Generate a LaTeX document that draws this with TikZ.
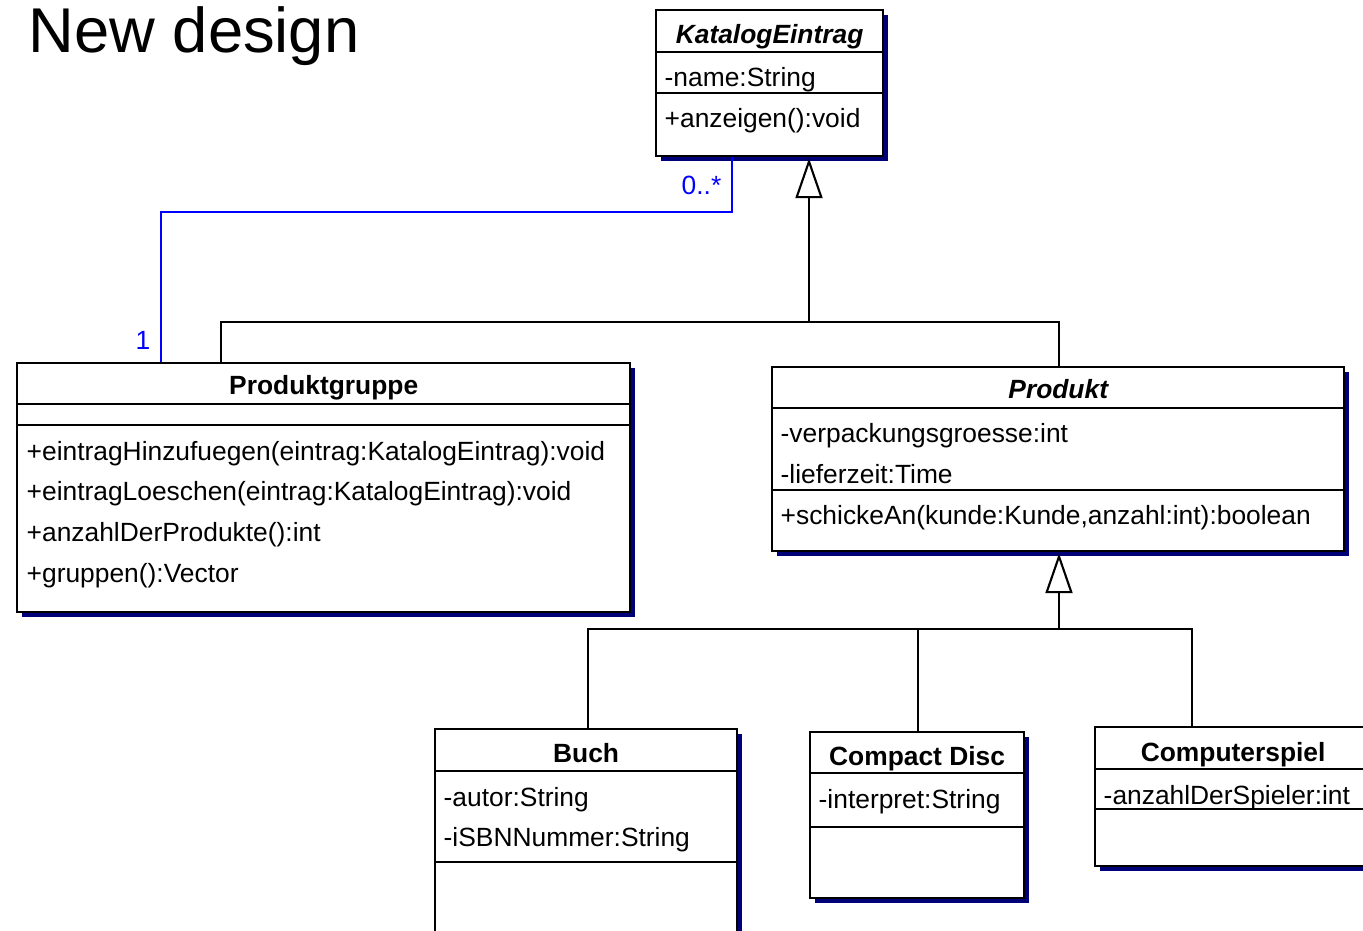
\documentclass[tikz,border=0pt]{standalone}
\usepackage{fontspec}
\setmainfont{Liberation Sans}
\usetikzlibrary{arrows.meta,positioning,shadows}
\definecolor{umlshade}{RGB}{0,0,120}
\definecolor{assocblue}{RGB}{0,0,255}

\begin{document}
\begin{tikzpicture}[x=0.01cm, y=-0.01cm,
    cls/.style={draw, line width=0.6pt, fill=white, inner sep=0pt, anchor=north west,
        drop shadow={shadow xshift=0.05cm, shadow yshift=-0.05cm, fill=umlshade, opacity=1}},
    ctitle/.style={font=\fontsize{7.5}{9}\selectfont\bfseries, anchor=base, inner sep=0pt},
    member/.style={font=\fontsize{7.5}{9}\selectfont, anchor=base west, inner sep=0pt},
    sep/.style={line width=0.6pt},
    tree/.style={line width=0.6pt},
    gen/.style={-{Triangle[open, length=0.4cm, width=0.27cm]}, line width=0.6pt, shorten >=0.01cm},
    assoc/.style={draw=assocblue, line width=0.6pt},
    mult/.style={font=\fontsize{7.5}{9}\selectfont, text=assocblue, inner sep=0pt}
]
\useasboundingbox (0,0) rectangle (1363,931);
\clip (0,0) rectangle (1363,931);
\fill[white] (0,0) rectangle (1363,931);

\node[font=\fontsize{18}{22}\selectfont, anchor=base west, inner sep=0pt] (title) at (28,53) {New design};

% KatalogEintrag
\node[cls, minimum width=2.27cm, minimum height=1.46cm] (kat) at (655,9) {};
\draw[sep] ([yshift=-0.43cm]kat.north west) -- ([yshift=-0.43cm]kat.north east);
\draw[sep] ([yshift=-0.84cm]kat.north west) -- ([yshift=-0.84cm]kat.north east);
\node[ctitle, font=\fontsize{7.5}{9}\selectfont\bfseries\itshape] (kat-t) at ([yshift=-0.34cm]kat.north) {KatalogEintrag};
\node[member] (kat-a1) at ([xshift=0.09cm, yshift=-0.77cm]kat.north west) {-name:String};
\node[member] (kat-m1) at ([xshift=0.09cm, yshift=-1.18cm]kat.north west) {+anzeigen():void};

% Produktgruppe
\node[cls, minimum width=6.13cm, minimum height=2.49cm] (pg) at (16,362) {};
\draw[sep] ([yshift=-0.42cm]pg.north west) -- ([yshift=-0.42cm]pg.north east);
\draw[sep] ([yshift=-0.63cm]pg.north west) -- ([yshift=-0.63cm]pg.north east);
\node[ctitle] (pg-t) at ([yshift=-0.32cm]pg.north) {Produktgruppe};
\node[member] (pg-m1) at ([xshift=0.1cm, yshift=-0.98cm]pg.north west) {+eintragHinzufuegen(eintrag:KatalogEintrag):void};
\node[member] (pg-m2) at ([xshift=0.1cm, yshift=-1.38cm]pg.north west) {+eintragLoeschen(eintrag:KatalogEintrag):void};
\node[member] (pg-m3) at ([xshift=0.1cm, yshift=-1.79cm]pg.north west) {+anzahlDerProdukte():int};
\node[member] (pg-m4) at ([xshift=0.1cm, yshift=-2.2cm]pg.north west) {+gruppen():Vector};

% Produkt
\node[cls, minimum width=5.72cm, minimum height=1.84cm] (prod) at (771,366) {};
\draw[sep] ([yshift=-0.42cm]prod.north west) -- ([yshift=-0.42cm]prod.north east);
\draw[sep] ([yshift=-1.24cm]prod.north west) -- ([yshift=-1.24cm]prod.north east);
\node[ctitle, font=\fontsize{7.5}{9}\selectfont\bfseries\itshape] (prod-t) at ([yshift=-0.32cm]prod.north) {Produkt};
\node[member] (prod-a1) at ([xshift=0.09cm, yshift=-0.76cm]prod.north west) {-verpackungsgroesse:int};
\node[member] (prod-a2) at ([xshift=0.09cm, yshift=-1.17cm]prod.north west) {-lieferzeit:Time};
\node[member] (prod-m1) at ([xshift=0.09cm, yshift=-1.58cm]prod.north west) {+schickeAn(kunde:Kunde,anzahl:int):boolean};

% Buch
\node[cls, minimum width=3.02cm, minimum height=2.2cm] (buch) at (434,728) {};
\draw[sep] ([yshift=-0.43cm]buch.north west) -- ([yshift=-0.43cm]buch.north east);
\draw[sep] ([yshift=-1.34cm]buch.north west) -- ([yshift=-1.34cm]buch.north east);
\node[ctitle] (buch-t) at ([yshift=-0.34cm]buch.north) {Buch};
\node[member] (buch-a1) at ([xshift=0.09cm, yshift=-0.78cm]buch.north west) {-autor:String};
\node[member] (buch-a2) at ([xshift=0.09cm, yshift=-1.18cm]buch.north west) {-iSBNNummer:String};

% Compact Disc
\node[cls, minimum width=2.14cm, minimum height=1.66cm] (cd) at (809,731) {};
\draw[sep] ([yshift=-0.42cm]cd.north west) -- ([yshift=-0.42cm]cd.north east);
\draw[sep] ([yshift=-0.96cm]cd.north west) -- ([yshift=-0.96cm]cd.north east);
\node[ctitle] (cd-t) at ([yshift=-0.34cm]cd.north) {Compact Disc};
\node[member] (cd-a1) at ([xshift=0.09cm, yshift=-0.77cm]cd.north west) {-interpret:String};

% Computerspiel
\node[cls, minimum width=2.76cm, minimum height=1.39cm] (cs) at (1094,726) {};
\draw[sep] ([yshift=-0.43cm]cs.north west) -- ([yshift=-0.43cm]cs.north east);
\draw[sep] ([yshift=-0.83cm]cs.north west) -- ([yshift=-0.83cm]cs.north east);
\node[ctitle] (cs-t) at ([yshift=-0.35cm]cs.north) {Computerspiel};
\node[member] (cs-a1) at ([xshift=0.09cm, yshift=-0.78cm]cs.north west) {-anzahlDerSpieler:int};

% Vererbung KatalogEintrag
\coordinate (g1) at (809,322);
\coordinate (g1l) at (221,322);
\coordinate (g1r) at (1059,322);
\draw[gen] (g1) -- (g1 |- kat.south);
\draw[tree] (g1l |- pg.north) -- (g1l) -- (g1r) -- (g1r |- prod.north);

% Vererbung Produkt
\coordinate (g2) at (1059,629);
\coordinate (g2l) at (588,629);
\coordinate (g2m) at (918,629);
\coordinate (g2r) at (1192,629);
\draw[gen] (g2) -- (g2 |- prod.south);
\draw[tree] (g2l |- buch.north) -- (g2l) -- (g2r) -- (g2r |- cs.north);
\draw[tree] (g2m) -- (g2m |- cd.north);

% Assoziation
\coordinate (a1) at (732,212);
\coordinate (a2) at (161,212);
\draw[assoc] (a1 |- kat.south) -- (a1) -- (a2) -- (a2 |- pg.north);
\node[mult, anchor=base east] (mult-k) at (722,195) {0..*};
\node[mult, anchor=base] (mult-p) at (143,350) {1};
\end{tikzpicture}
\end{document}
